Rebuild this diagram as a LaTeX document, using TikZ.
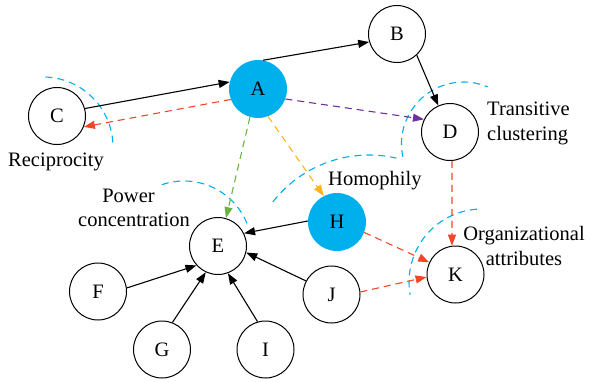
\documentclass[tikz,border=0pt]{standalone}
\usepackage{fontspec}
\setmainfont{Liberation Serif}
\newfontfamily\diagfont{Liberation Serif}
\usetikzlibrary{arrows.meta}
\definecolor{nodecyan}{RGB}{0,176,236}
\definecolor{arccyan}{RGB}{0,174,239}
\definecolor{redd}{RGB}{239,72,40}
\definecolor{purp}{RGB}{112,48,160}
\definecolor{grn}{RGB}{106,180,70}
\definecolor{orng}{RGB}{255,180,30}
\begin{document}
\begin{tikzpicture}[x=1pt,y=1pt,
  font=\diagfont\fontsize{20.5}{24}\selectfont,
  agent/.style={circle, draw=black, line width=1pt, minimum size=57pt, inner sep=0pt},
  hub/.style={circle, fill=nodecyan, minimum size=58pt, inner sep=0pt},
  link/.style={line width=1.1pt, -{Triangle[length=11pt,width=8pt]}},
  tie/.style={link, black},
  dlink/.style={link, dash pattern=on 7pt off 5pt},
  arcd/.style={arccyan, line width=1.1pt, dash pattern=on 7pt off 5pt},
  lbl/.style={inner sep=0pt}
]
\useasboundingbox (0,0) rectangle (590,-381);

% dashed cyan arcs
\draw[arcd] (43,-147) ++(88:70pt) arc[start angle=88, end angle=0, radius=70pt];
\draw[arcd] (463.5,-144) ++(192:62pt) arc[start angle=192, end angle=67, radius=62pt];
\draw[arcd] (184,-249) ++(109:68pt) arc[start angle=109, end angle=22, radius=68pt];
\draw[arcd] (369,-277) ++(142:122pt) arc[start angle=142, end angle=77, radius=122pt];
\draw[arcd] (482,-282) ++(94:73pt) arc[start angle=94, end angle=190, radius=73pt];

% nodes
\node[hub] (A) at (258,-89) {A};
\node[agent] (B) at (397,-34) {B};
\node[agent] (C) at (57,-116) {C};
\node[agent] (D) at (450,-132) {D};
\node[agent] (E) at (218,-246) {E};
\node[hub] (H) at (337,-222) {H};
\node[agent] (K) at (455.5,-274.5) {K};
\node[agent] (F) at (98,-291.5) {F};
\node[agent] (G) at (162,-349.5) {G};
\node[agent] (I) at (265.5,-349.5) {I};
\node[agent] (J) at (331.5,-294.5) {J};

% labels
\node[lbl, anchor=base] (lRec) at (56,-166) {Reciprocity};
\node[lbl, anchor=base west] (lTr1) at (487,-115) {Transitive};
\node[lbl, anchor=base west] (lTr2) at (487,-140) {clustering};
\node[lbl, anchor=base west] (lHom) at (328,-185) {Homophily};
\node[lbl, anchor=base] (lPw1) at (128.5,-202) {Power};
\node[lbl, anchor=base east] (lPw2) at (190,-226) {concentration};
\node[lbl, anchor=base] (lOr1) at (524,-240) {Organizational};
\node[lbl, anchor=base] (lOr2) at (524,-265) {attributes};

% connectors
\draw[tie] (C.15) -- (A.166);
\draw[dlink, redd] (A.201) -- (C.338);
\draw[tie] (A.80) -- (B.196);
\draw[tie] (B.313) -- (D.114);
\draw[dlink, purp] (A.340) -- (D.154);
\draw[dlink, grn] (A.254) -- (E.74);
\draw[dlink, orng] (A.290) -- (H.117);
\draw[tie] (H.178) -- (E.26);
\draw[dlink, redd] (H.339) -- (K.155);
\draw[dlink, redd] (J.5) -- (K.185);
\draw[dlink, redd] (D.274) -- (K.97);
\draw[tie] (F.7) -- (E.222);
\draw[tie] (G.69) -- (E.245);
\draw[tie] (I.106) -- (E.290);
\draw[tie] (J.152) -- (E.347);
\end{tikzpicture}
\end{document}
